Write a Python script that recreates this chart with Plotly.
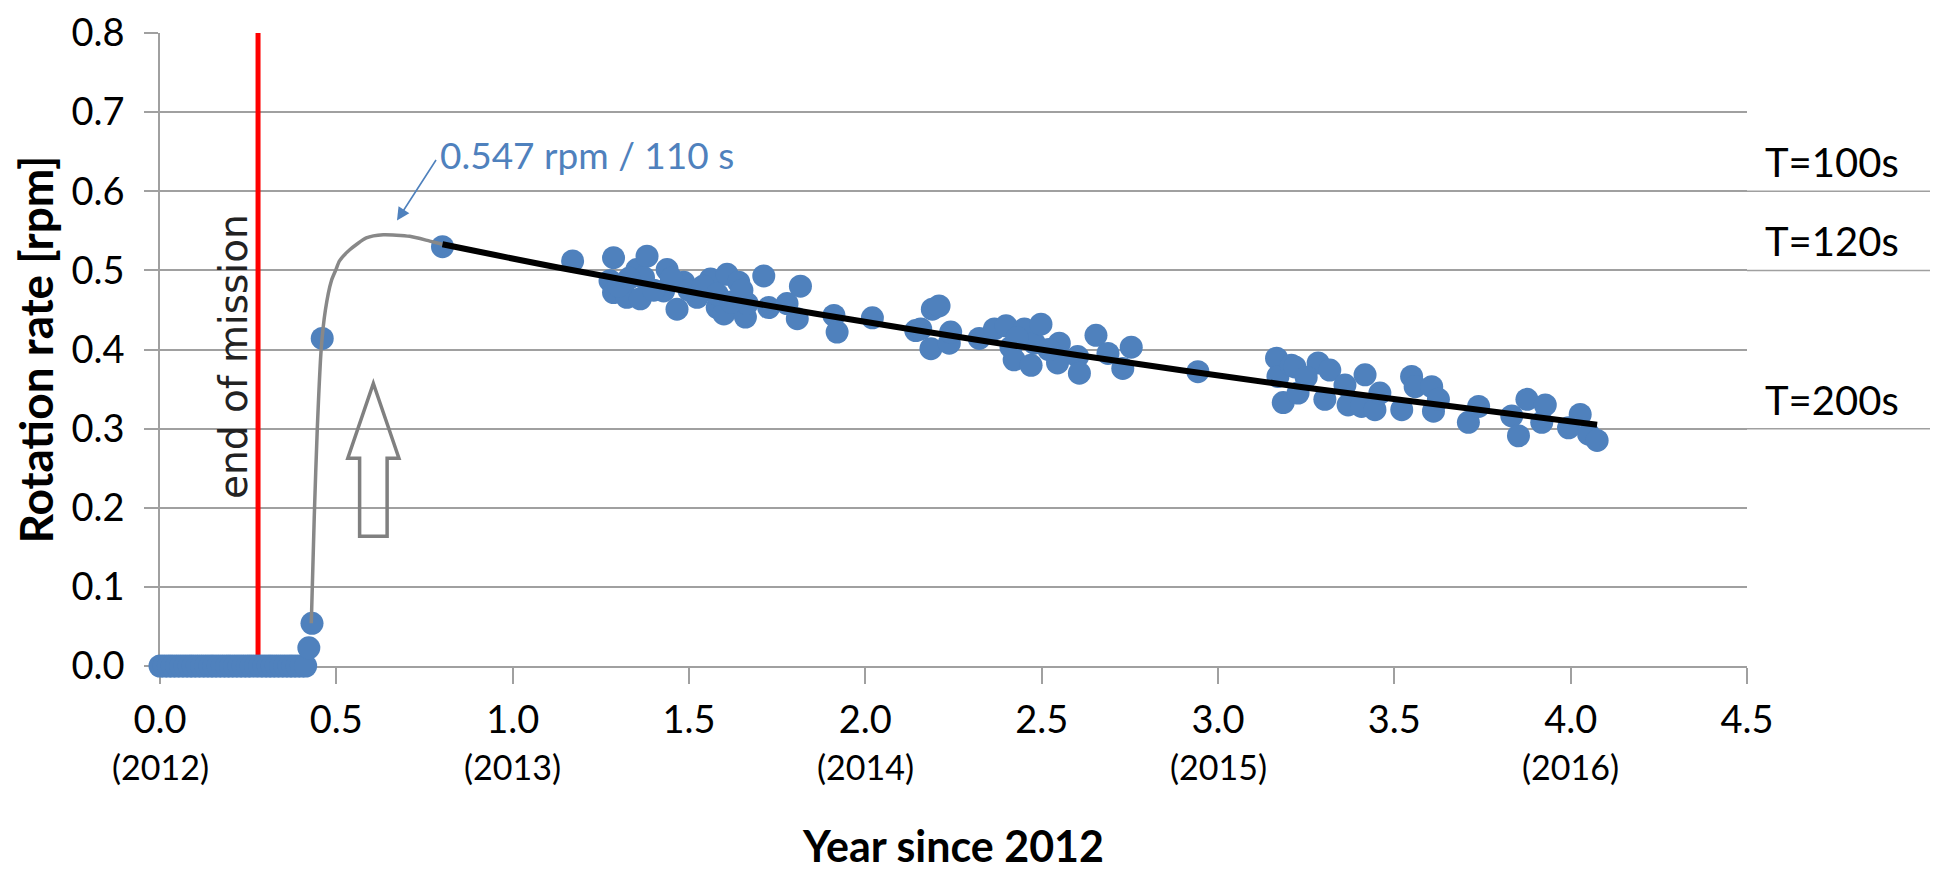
import plotly.graph_objects as go

# ---------------- data ----------------
dots_x = [0.0, 0.012, 0.024, 0.035, 0.047, 0.059, 0.071, 0.083, 0.094, 0.106, 0.118, 0.13,
          0.142, 0.153, 0.165, 0.177, 0.189, 0.2, 0.212, 0.224, 0.236, 0.248, 0.259, 0.271,
          0.283, 0.295, 0.307, 0.318, 0.33, 0.342, 0.354, 0.366, 0.377, 0.389, 0.401, 0.413,
          0.422, 0.431, 0.460, 0.801,
          1.170, 1.286, 1.276, 1.286, 1.324, 1.352, 1.381, 1.371, 1.362, 1.438, 1.428, 1.466,
          1.485, 1.523, 1.561, 1.580, 1.599, 1.608, 1.641, 1.660, 1.665, 1.712, 1.726, 1.778,
          1.816, 1.807, 1.911, 1.920, 2.020, 2.143, 2.157, 2.190, 2.209, 2.186, 2.238, 2.242,
          2.323, 2.366, 2.399, 2.413, 2.422, 2.451, 2.470, 2.479, 2.498, 2.545, 2.550, 2.602,
          2.607, 2.654, 2.688, 2.730, 2.754, 2.943, 3.166, 3.170, 3.185, 3.208, 3.218, 3.227,
          3.284, 3.303, 3.317, 3.360, 3.369, 3.407, 3.417, 3.445, 3.459, 3.521, 3.549, 3.559,
          3.606, 3.611, 3.625, 3.710, 3.739, 3.833, 3.852, 3.876, 3.918, 3.928, 3.994, 4.027,
          4.051, 4.075,
          1.300, 1.330, 1.400, 1.450, 1.500, 1.540, 1.580, 1.620, 1.650, 2.430, 2.520, 3.250]
dots_y = [0.0, 0.0, 0.0, 0.0, 0.0, 0.0, 0.0, 0.0, 0.0, 0.0, 0.0, 0.0,
          0.0, 0.0, 0.0, 0.0, 0.0, 0.0, 0.0, 0.0, 0.0, 0.0, 0.0, 0.0,
          0.0, 0.0, 0.0, 0.0, 0.0, 0.0, 0.0, 0.0, 0.0, 0.0, 0.0, 0.0,
          0.023, 0.054, 0.414, 0.530,
          0.512, 0.516, 0.487, 0.472, 0.466, 0.501, 0.518, 0.491, 0.464, 0.501, 0.474, 0.451,
          0.485, 0.466, 0.489, 0.453, 0.445, 0.495, 0.485, 0.441, 0.458, 0.493, 0.453, 0.458,
          0.480, 0.439, 0.443, 0.422, 0.440, 0.424, 0.426, 0.451, 0.455, 0.401, 0.408, 0.422,
          0.414, 0.426, 0.430, 0.403, 0.387, 0.426, 0.380, 0.408, 0.432, 0.383, 0.408, 0.391,
          0.370, 0.418, 0.395, 0.376, 0.403, 0.372, 0.389, 0.366, 0.333, 0.380, 0.378, 0.345,
          0.383, 0.337, 0.374, 0.355, 0.330, 0.328, 0.368, 0.324, 0.345, 0.324, 0.366, 0.353,
          0.353, 0.322, 0.337, 0.308, 0.328, 0.316, 0.291, 0.337, 0.308, 0.330, 0.301, 0.318,
          0.293, 0.285,
          0.480, 0.490, 0.475, 0.490, 0.475, 0.480, 0.470, 0.460, 0.475, 0.415, 0.400, 0.365]

# grey spin-up fit
fit_x = [0.429, 0.4375, 0.446, 0.457, 0.469, 0.486, 0.498, 0.509, 0.538, 0.585, 0.633, 0.708, 0.765, 0.801]
fit_y = [0.054, 0.190, 0.300, 0.400, 0.450, 0.487, 0.500, 0.512, 0.526, 0.541, 0.545, 0.543, 0.537, 0.533]

# black decay trend
trend_x = [0.801, 1.125, 1.6, 2.15, 2.6, 3.23, 3.65, 4.075]
trend_y = [0.533, 0.504, 0.465, 0.424, 0.393, 0.353, 0.329, 0.305]

end_of_mission = 0.278
x_ticks = [0.0, 0.5, 1.0, 1.5, 2.0, 2.5, 3.0, 3.5, 4.0, 4.5]
x_tick_text = ["0.0", "0.5", "1.0", "1.5", "2.0", "2.5", "3.0", "3.5", "4.0", "4.5"]
y_ticks = [0.0, 0.1, 0.2, 0.3, 0.4, 0.5, 0.6, 0.7, 0.8]
y_tick_text = ["0.0", "0.1", "0.2", "0.3", "0.4", "0.5", "0.6", "0.7", "0.8"]
year_pos = [0.0, 1.0, 2.0, 3.0, 4.0]
year_text = ["(2012)", "(2013)", "(2014)", "(2015)", "(2016)"]
period_rpm = [0.6, 0.5, 0.3]
period_text = ["T=100s", "T=120s", "T=200s"]

peak_label = "0.547 rpm / 110 s"
peak_tip = (0.672, 0.563)
label_pos = (1.21, 0.647)

# hollow arrow: centre x, tip y, head-base y, bottom y, head half-width, shaft half-width
harrow = dict(cx=0.605, tip=0.357, head=0.2625, bottom=0.164, hw=0.0725, sw=0.039)

# ---------------- style ----------------
BLUE = "#4F81BD"
GRID = "#A0A0A0"
FONT = "Lato, Carlito, Calibri, sans-serif"

fig = go.Figure()

fig.add_trace(go.Scatter(x=[end_of_mission, end_of_mission], y=[0, 0.8], mode="lines",
                         line=dict(color="#FF0000", width=5), showlegend=False, hoverinfo="skip"))
fig.add_trace(go.Scatter(x=dots_x, y=dots_y, mode="markers", cliponaxis=False,
                         marker=dict(color=BLUE, size=23, line=dict(width=0)),
                         showlegend=False, name="Rotation rate"))
fig.add_trace(go.Scatter(x=fit_x, y=fit_y, mode="lines",
                         line=dict(color="#888888", width=3.5, shape="spline", smoothing=0.6),
                         showlegend=False, hoverinfo="skip"))
fig.add_trace(go.Scatter(x=trend_x, y=trend_y, mode="lines",
                         line=dict(color="#000000", width=6, shape="spline"),
                         showlegend=False, hoverinfo="skip"))

# hollow grey arrow
h = harrow
path = (f"M {h['cx']},{h['tip']} L {h['cx'] + h['hw']},{h['head']} L {h['cx'] + h['sw']},{h['head']} "
        f"L {h['cx'] + h['sw']},{h['bottom']} L {h['cx'] - h['sw']},{h['bottom']} "
        f"L {h['cx'] - h['sw']},{h['head']} L {h['cx'] - h['hw']},{h['head']} Z")
shapes = [dict(type="path", path=path, xref="x", yref="y",
               line=dict(color="#808080", width=3.5), fillcolor="rgba(255,255,255,0)")]

# extended gridlines for the period markers
for r in period_rpm:
    shapes.append(dict(type="line", xref="paper", yref="y", x0=1.0, x1=1.14, y0=r, y1=r,
                       line=dict(color=GRID, width=1.5)))

annotations = []
for t, r in zip(period_text, period_rpm):
    annotations.append(dict(text=t, xref="paper", yref="y", x=1.0103, y=r, yshift=29,
                            xanchor="left", yanchor="middle", showarrow=False,
                            font=dict(family=FONT, size=40, color="#000000")))
for xp, t in zip(year_pos, year_text):
    annotations.append(dict(text=t, xref="x", yref="paper", x=xp, y=0, yshift=-100,
                            xanchor="center", yanchor="middle", showarrow=False,
                            font=dict(family=FONT, size=34, color="#000000")))
annotations.append(dict(text="end of mission", x=0.208, y=0.391, xref="x", yref="y",
                        textangle=-90, showarrow=False, xanchor="center", yanchor="middle",
                        font=dict(family="DejaVu Sans, Verdana, sans-serif", size=39, color="#222222")))
annotations.append(dict(text=peak_label, x=label_pos[0], y=label_pos[1], xref="x", yref="y",
                        showarrow=False, xanchor="center", yanchor="middle",
                        font=dict(family=FONT, size=37, color=BLUE)))
annotations.append(dict(text="", x=peak_tip[0], y=peak_tip[1], xref="x", yref="y",
                        ax=40, ay=-62, showarrow=True, arrowhead=2, arrowsize=1.6,
                        arrowwidth=1.6, arrowcolor=BLUE, standoff=0, startstandoff=0))

fig.update_layout(
    width=1938, height=869,
    margin=dict(l=152, r=199, t=25, b=211, autoexpand=False),
    paper_bgcolor="white", plot_bgcolor="white",
    font=dict(family=FONT, size=38, color="#000000"),
    shapes=shapes, annotations=annotations, showlegend=False,
    xaxis=dict(range=[0, 4.5], tickmode="array", tickvals=x_ticks, ticktext=x_tick_text,
               ticks="outside", ticklen=16, tickwidth=1.5, tickcolor=GRID,
               showline=True, linecolor=GRID, linewidth=1.5, showgrid=False, zeroline=False,
               layer="below traces", ticklabelstandoff=4, ticklabeloverflow="allow",
               tickfont=dict(family=FONT, size=38, color="#000000"),
               title=dict(text="<b>Year since 2012</b>", standoff=92,
                          font=dict(family=FONT, size=43, color="#000000")),
               automargin=False),
    yaxis=dict(range=[0, 0.8], tickmode="array", tickvals=y_ticks, ticktext=y_tick_text,
               ticks="outside", ticklen=14, tickwidth=1.5, tickcolor=GRID,
               showline=True, linecolor=GRID, linewidth=1.5, showgrid=True,
               gridcolor=GRID, gridwidth=1.5, zeroline=False, layer="below traces",
               ticklabelstandoff=12, ticklabeloverflow="allow",
               tickfont=dict(family=FONT, size=38, color="#000000"),
               title=dict(text="<b>Rotation rate [rpm]</b>", standoff=6,
                          font=dict(family=FONT, size=46, color="#000000")),
               automargin=False),
)

fig.write_html("out.html")
